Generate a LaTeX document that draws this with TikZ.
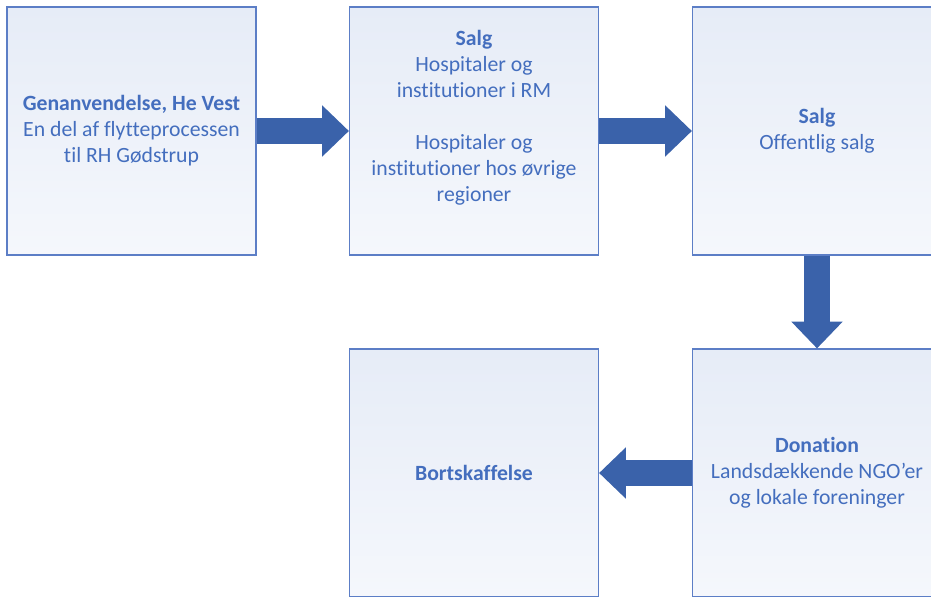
\documentclass[tikz,border=0pt]{standalone}
\usepackage{fontspec}
\setmainfont[Ligatures=NoCommon]{Carlito}
\usepackage{xcolor}
\usepackage{tikz}
\usetikzlibrary{arrows.meta,positioning}
\definecolor{frameblue}{RGB}{92,126,198}
\definecolor{textblue}{RGB}{68,110,190}
\definecolor{arrowblue}{RGB}{58,98,170}
\definecolor{filltint}{RGB}{230,236,247}

\tikzset{
  box_text/.style={text=textblue, align=center, font=\fontsize{16.3}{19.5}\selectfont},
  box/.style={box_text, draw=frameblue, line width=1pt, inner sep=0pt,
    minimum width=186.75pt, minimum height=186pt,
    top color=filltint, middle color=white, bottom color=filltint!40!white},
  flow/.style={draw=arrowblue, line width=19.5pt,
    -{Triangle[length=20pt, width=38.5pt, line width=0pt, fill=arrowblue]}}
}

\begin{document}
\begin{tikzpicture}[x=0.75pt, y=-0.75pt]
      \clip (0, 0) rectangle (931, 596);
      \node (genanvendelse) [box] at (131.5, 131)
      {\textbf{Genanvendelse, He Vest}\\En del af flytteprocessen\\til RH Gødstrup};
      \node (salg_rm) [box] at (474, 131) {};
      \node (salg_rm_text) [box_text] at (474, 118)
      {\textbf{Salg}\\Hospitaler og\\institutioner i RM\\[19.5pt]Hospitaler og\\institutioner hos øvrige\\regioner};
      \node (salg_offentlig) [box] at (817, 131) {\textbf{Salg}\\Offentlig salg};
      \node (donation) [box] at (817, 473)
      {\textbf{Donation}\\Landsdækkende NGO’er\\og lokale foreninger};
      \node (bortskaffelse) [box] at (474, 473) {\textbf{Bortskaffelse}};
      % flow between the steps
      \draw [flow] (genanvendelse) -- (salg_rm);
      \draw [flow] (salg_rm) -- (salg_offentlig);
      \draw [flow] (salg_offentlig) -- (donation);
      \draw [flow] (donation) -- (bortskaffelse);
    \end{tikzpicture}
\end{document}
